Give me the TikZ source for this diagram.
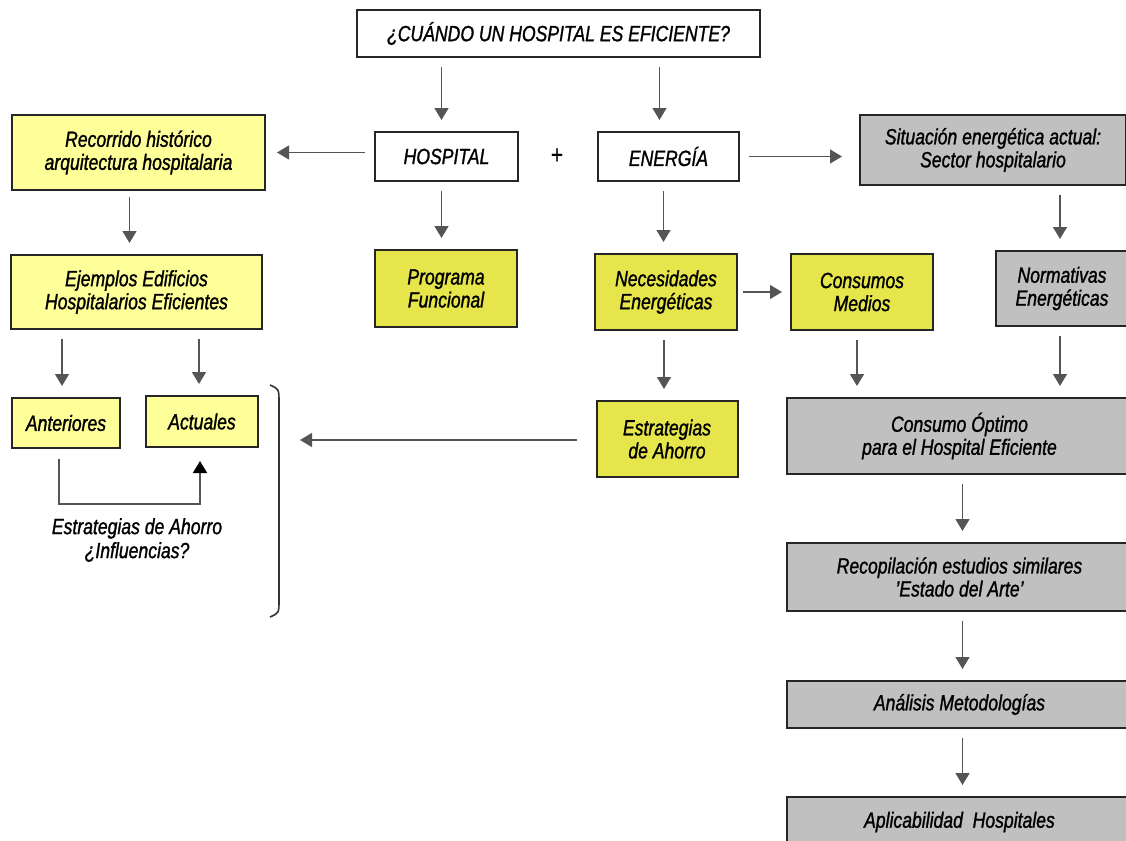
\documentclass[tikz,border=0pt]{standalone}
\usepackage{fontspec}
\setmainfont{Liberation Sans}[FakeStretch=0.8, FakeBold=1.2]
\usetikzlibrary{arrows.meta}

\definecolor{paleyel}{HTML}{FFFF99}
\definecolor{darkyel}{HTML}{E6E64C}
\definecolor{boxgrey}{HTML}{C0C0C0}
\definecolor{arrgrey}{HTML}{555555}

\tikzset{
  box/.style={draw=black!85, line width=1pt, align=center, inner sep=2pt,
    font=\itshape\fontsize{11}{11.5}\selectfont},
  plain/.style={box, fill=white},
  pale/.style={box, fill=paleyel},
  strong/.style={box, fill=darkyel},
  grey/.style={box, fill=boxgrey},
  arr/.style={draw=arrgrey, line width=0.75pt, -{Triangle[width=7pt,length=6pt]},
    shorten <=4.5pt, shorten >=5.5pt}
}

\begin{document}
\begin{tikzpicture}[x=0.5pt, y=-0.5pt]
    \useasboundingbox (0,0) rectangle (1126,841);
    % boxes
    \node[plain, minimum width=201.5pt, minimum height=23.5pt] (title) at (558.5,33.5) {¿CUÁNDO UN HOSPITAL ES EFICIENTE?};
    \node[plain, minimum width=71.5pt, minimum height=24.5pt] (hosp) at (446.5,156.5) {HOSPITAL};
    \node[plain, minimum width=70.5pt, minimum height=24.5pt] (ener) at (668.5,156.5) {ENERGÍA};
    \node[pale, minimum width=126.5pt, minimum height=37.5pt] (recor) at (138.5,152.5) {Recorrido histórico\\arquitectura hospitalaria};
    \node[grey, minimum width=133pt, minimum height=35pt] (situ) at (993,150) {Situación energética actual:\\Sector hospitalario};
    \node[pale, minimum width=125.5pt, minimum height=37pt] (ejem) at (136.5,292) {Ejemplos Edificios\\Hospitalarios Eficientes};
    \node[strong, minimum width=71pt, minimum height=38.5pt] (prog) at (446,288.5) {Programa\\Funcional};
    \node[strong, minimum width=71pt, minimum height=38pt] (nece) at (666,292) {Necesidades\\Energéticas};
    \node[strong, minimum width=71pt, minimum height=38pt] (cons) at (862,292) {Consumos\\Medios};
    \node[grey, minimum width=66pt, minimum height=37.5pt] (norm) at (1062,288.5) {Normativas\\Energéticas};
    \node[pale, minimum width=54pt, minimum height=25pt] (ante) at (66,423) {Anteriores};
    \node[pale, minimum width=56pt, minimum height=25.5pt] (actu) at (202,421.5) {Actuales};
    \node[strong, minimum width=70.5pt, minimum height=38pt] (estr) at (667,439) {Estrategias\\de Ahorro};
    \node[grey, minimum width=172.5pt, minimum height=38pt] (opti) at (959.5,436) {Consumo Óptimo\\para el Hospital Eficiente};
    \node[grey, minimum width=172.5pt, minimum height=34pt] (reco) at (959.5,577) {Recopilación estudios similares\\'Estado del Arte'};
    \node[grey, minimum width=172.5pt, minimum height=23.5pt] (anal) at (959.5,704.5) {Análisis Metodologías};
    \node[grey, minimum width=172.5pt, minimum height=25pt] (apli) at (959.5,822) {Aplicabilidad~~Hospitales};
    % labels
    \node[font=\fontsize{13}{13}\selectfont] (plus) at (557,156) {+};
    \node[align=center, font=\itshape\fontsize{11}{12}\selectfont] (infl) at (137,540) {Estrategias de Ahorro\\¿Influencias?};
    \coordinate (elb) at (130,504);
    \coordinate (brk) at (300,440);
    % bracket
    \draw[draw=black!80, line width=0.8pt] (270,385) .. controls (279,389) .. (279,403) -- (279,600) .. controls (279,613) .. (270,617);
    % arrows
    \draw[arr] ([xshift=-2.5pt]title.south -| hosp) -- ([xshift=-2.5pt]hosp.north);
    \draw[arr] ([xshift=-4.5pt]title.south -| ener) -- ([xshift=-4.5pt]ener.north);
    \draw[arr] (hosp.west |- recor.east) -- (recor.east);
    \draw[arr, shorten >=8.5pt] (ener.east) -- (ener.east -| situ.west);
    \draw[arr, shorten <=3pt] ([xshift=-4.5pt]recor.south) -- ([xshift=-4.5pt]recor.south |- ejem.north);
    \draw[arr] ([xshift=-2.5pt]hosp.south) -- ([xshift=-2.5pt]hosp.south |- prog.north);
    \draw[arr] ([xshift=-2.5pt]ener.south) -- ([xshift=-2.5pt]ener.south |- nece.north);
    \draw[arr] ([xshift=-1pt]situ.south -| norm) -- ([xshift=-1pt]norm.north);
    \draw[arr, shorten <=2.5pt, shorten >=4pt] (nece) -- (cons);
    \draw[arr] ([xshift=-2pt]ejem.south -| ante) -- ([xshift=-2pt]ante.north);
    \draw[arr] ([xshift=-1.5pt]ejem.south -| actu) -- ([xshift=-1.5pt]actu.north);
    \draw[arr] ([xshift=-1pt]nece.south) -- ([xshift=-1pt]nece.south |- estr.north);
    \draw[arr] ([xshift=-2.5pt]cons.south) -- ([xshift=-2.5pt]cons.south |- opti.north);
    \draw[arr] ([xshift=-1pt]norm.south) -- ([xshift=-1pt]norm.south |- opti.north);
    \draw[arr] ([xshift=1.5pt]opti.south) -- ([xshift=1.5pt]reco.north);
    \draw[arr] ([xshift=1.5pt]reco.south) -- ([xshift=1.5pt]anal.north);
    \draw[arr] ([xshift=1.5pt]anal.south) -- ([xshift=1.5pt]apli.north);
    \draw[arr, shorten <=9.5pt, shorten >=0pt] (estr.west |- brk) -- (brk);
    \draw[arr, -{Triangle[width=7pt,length=6pt,black]}, shorten <=5pt, shorten >=6.5pt] ([xshift=-3.5pt]ante.south) |- (elb) -| ([xshift=-1pt]actu.south);
\end{tikzpicture}
\end{document}
